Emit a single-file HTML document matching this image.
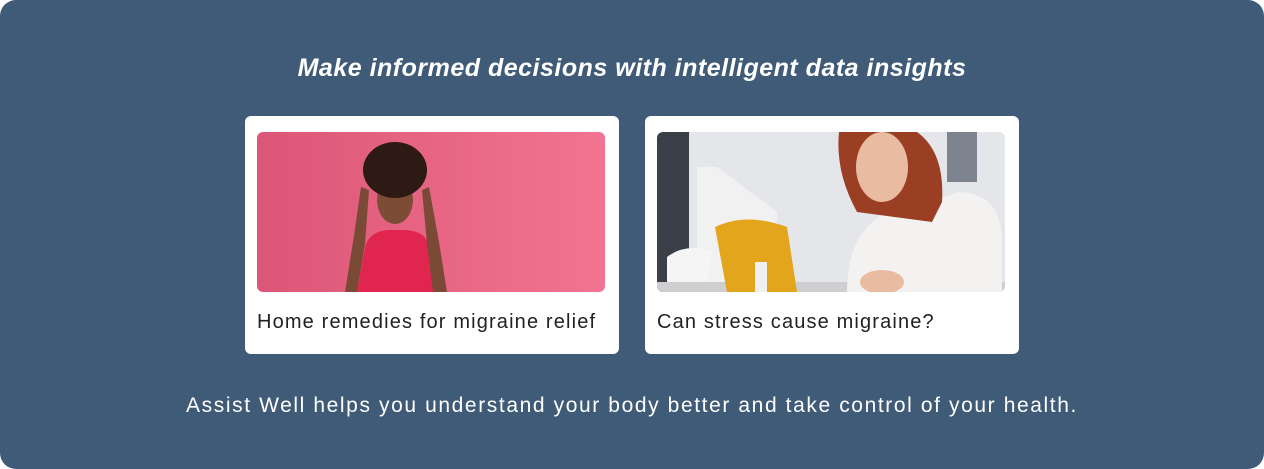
<!DOCTYPE html>
<html><head><meta charset="utf-8"><style>
*{margin:0;padding:0;box-sizing:border-box}
body{width:1264px;height:469px;background:#fff;position:relative;overflow:hidden;font-family:"Liberation Sans",sans-serif}
.panel{position:absolute;left:0;top:0;width:1264px;height:469px;background:#3f5b78;border-radius:16px}
.title{position:absolute;left:0;width:1264px;top:54px;text-align:center;color:#fff;font-weight:bold;font-style:italic;font-size:25px;letter-spacing:0.5px}
.card{position:absolute;top:116px;width:374px;height:238px;background:#fff;border-radius:6px}
.img{position:absolute;left:12px;top:16px;width:348px;height:160px;border-radius:6px;overflow:hidden}
.cap{position:absolute;left:12px;top:195px;font-size:20px;color:#222;letter-spacing:1.15px}
.foot{position:absolute;left:0;width:1264px;top:394px;text-align:center;color:#fff;font-size:21px;letter-spacing:1.6px}
</style></head><body>
<div class="panel">
<div class="title">Make informed decisions with intelligent data insights</div>
<div class="card" style="left:245px">
 <div class="img">
  <svg width="348" height="160" viewBox="0 0 348 160">
   <defs><linearGradient id="g1" x1="0" x2="1"><stop offset="0" stop-color="#dc5677"/><stop offset="1" stop-color="#f27490"/></linearGradient></defs>
   <rect width="348" height="160" fill="url(#g1)"/>
   <path d="M100 160 L108 115 Q112 100 130 98 L150 98 Q170 100 172 115 L178 160Z" fill="#e0264f"/>
   <path d="M88 160 L96 110 L104 55 L112 58 L108 112 L100 160Z" fill="#7a4a36"/>
   <path d="M190 160 L182 110 L172 55 L165 58 L170 112 L176 160Z" fill="#7a4a36"/>
   <ellipse cx="138" cy="68" rx="18" ry="24" fill="#7c4c36"/>
   <ellipse cx="138" cy="38" rx="32" ry="28" fill="#2e1a14"/>
  </svg>
 </div>
 <div class="cap">Home remedies for migraine relief</div>
</div>
<div class="card" style="left:645px">
 <div class="img">
  <svg width="348" height="160" viewBox="0 0 348 160">
   <rect width="348" height="160" fill="#e4e6ea"/>
   <rect x="0" y="0" width="32" height="160" fill="#3b4048"/>
   <rect x="290" y="0" width="30" height="50" fill="#7d8490"/>
   <path d="M40 35 L60 35 L120 80 L120 160 L40 160Z" fill="#f1f1f2"/>
   <rect x="0" y="150" width="348" height="10" fill="#cfcfd2"/>
   <path d="M58 95 Q90 80 130 95 L140 160 L70 160Z" fill="#e3a51b"/>
   <path d="M10 125 Q30 110 55 120 L50 150 L10 150Z" fill="#f5f5f5"/>
   <rect x="98" y="130" width="12" height="30" fill="#f0f0f0"/>
   <path d="M190 160 Q190 100 230 80 Q280 70 300 60 Q345 60 345 110 L345 160Z" fill="#f3f2f0"/>
   <path d="M182 0 L260 0 Q288 20 285 70 L275 90 L200 80 Q178 40 182 0Z" fill="#9a3e24"/>
   <ellipse cx="225" cy="35" rx="26" ry="35" fill="#e9bca2"/>
   <ellipse cx="225" cy="150" rx="22" ry="12" fill="#e9bca2"/>
  </svg>
 </div>
 <div class="cap">Can stress cause migraine?</div>
</div>
<div class="foot">Assist Well helps you understand your body better and take control of your health.</div>
</div>
</body></html>
